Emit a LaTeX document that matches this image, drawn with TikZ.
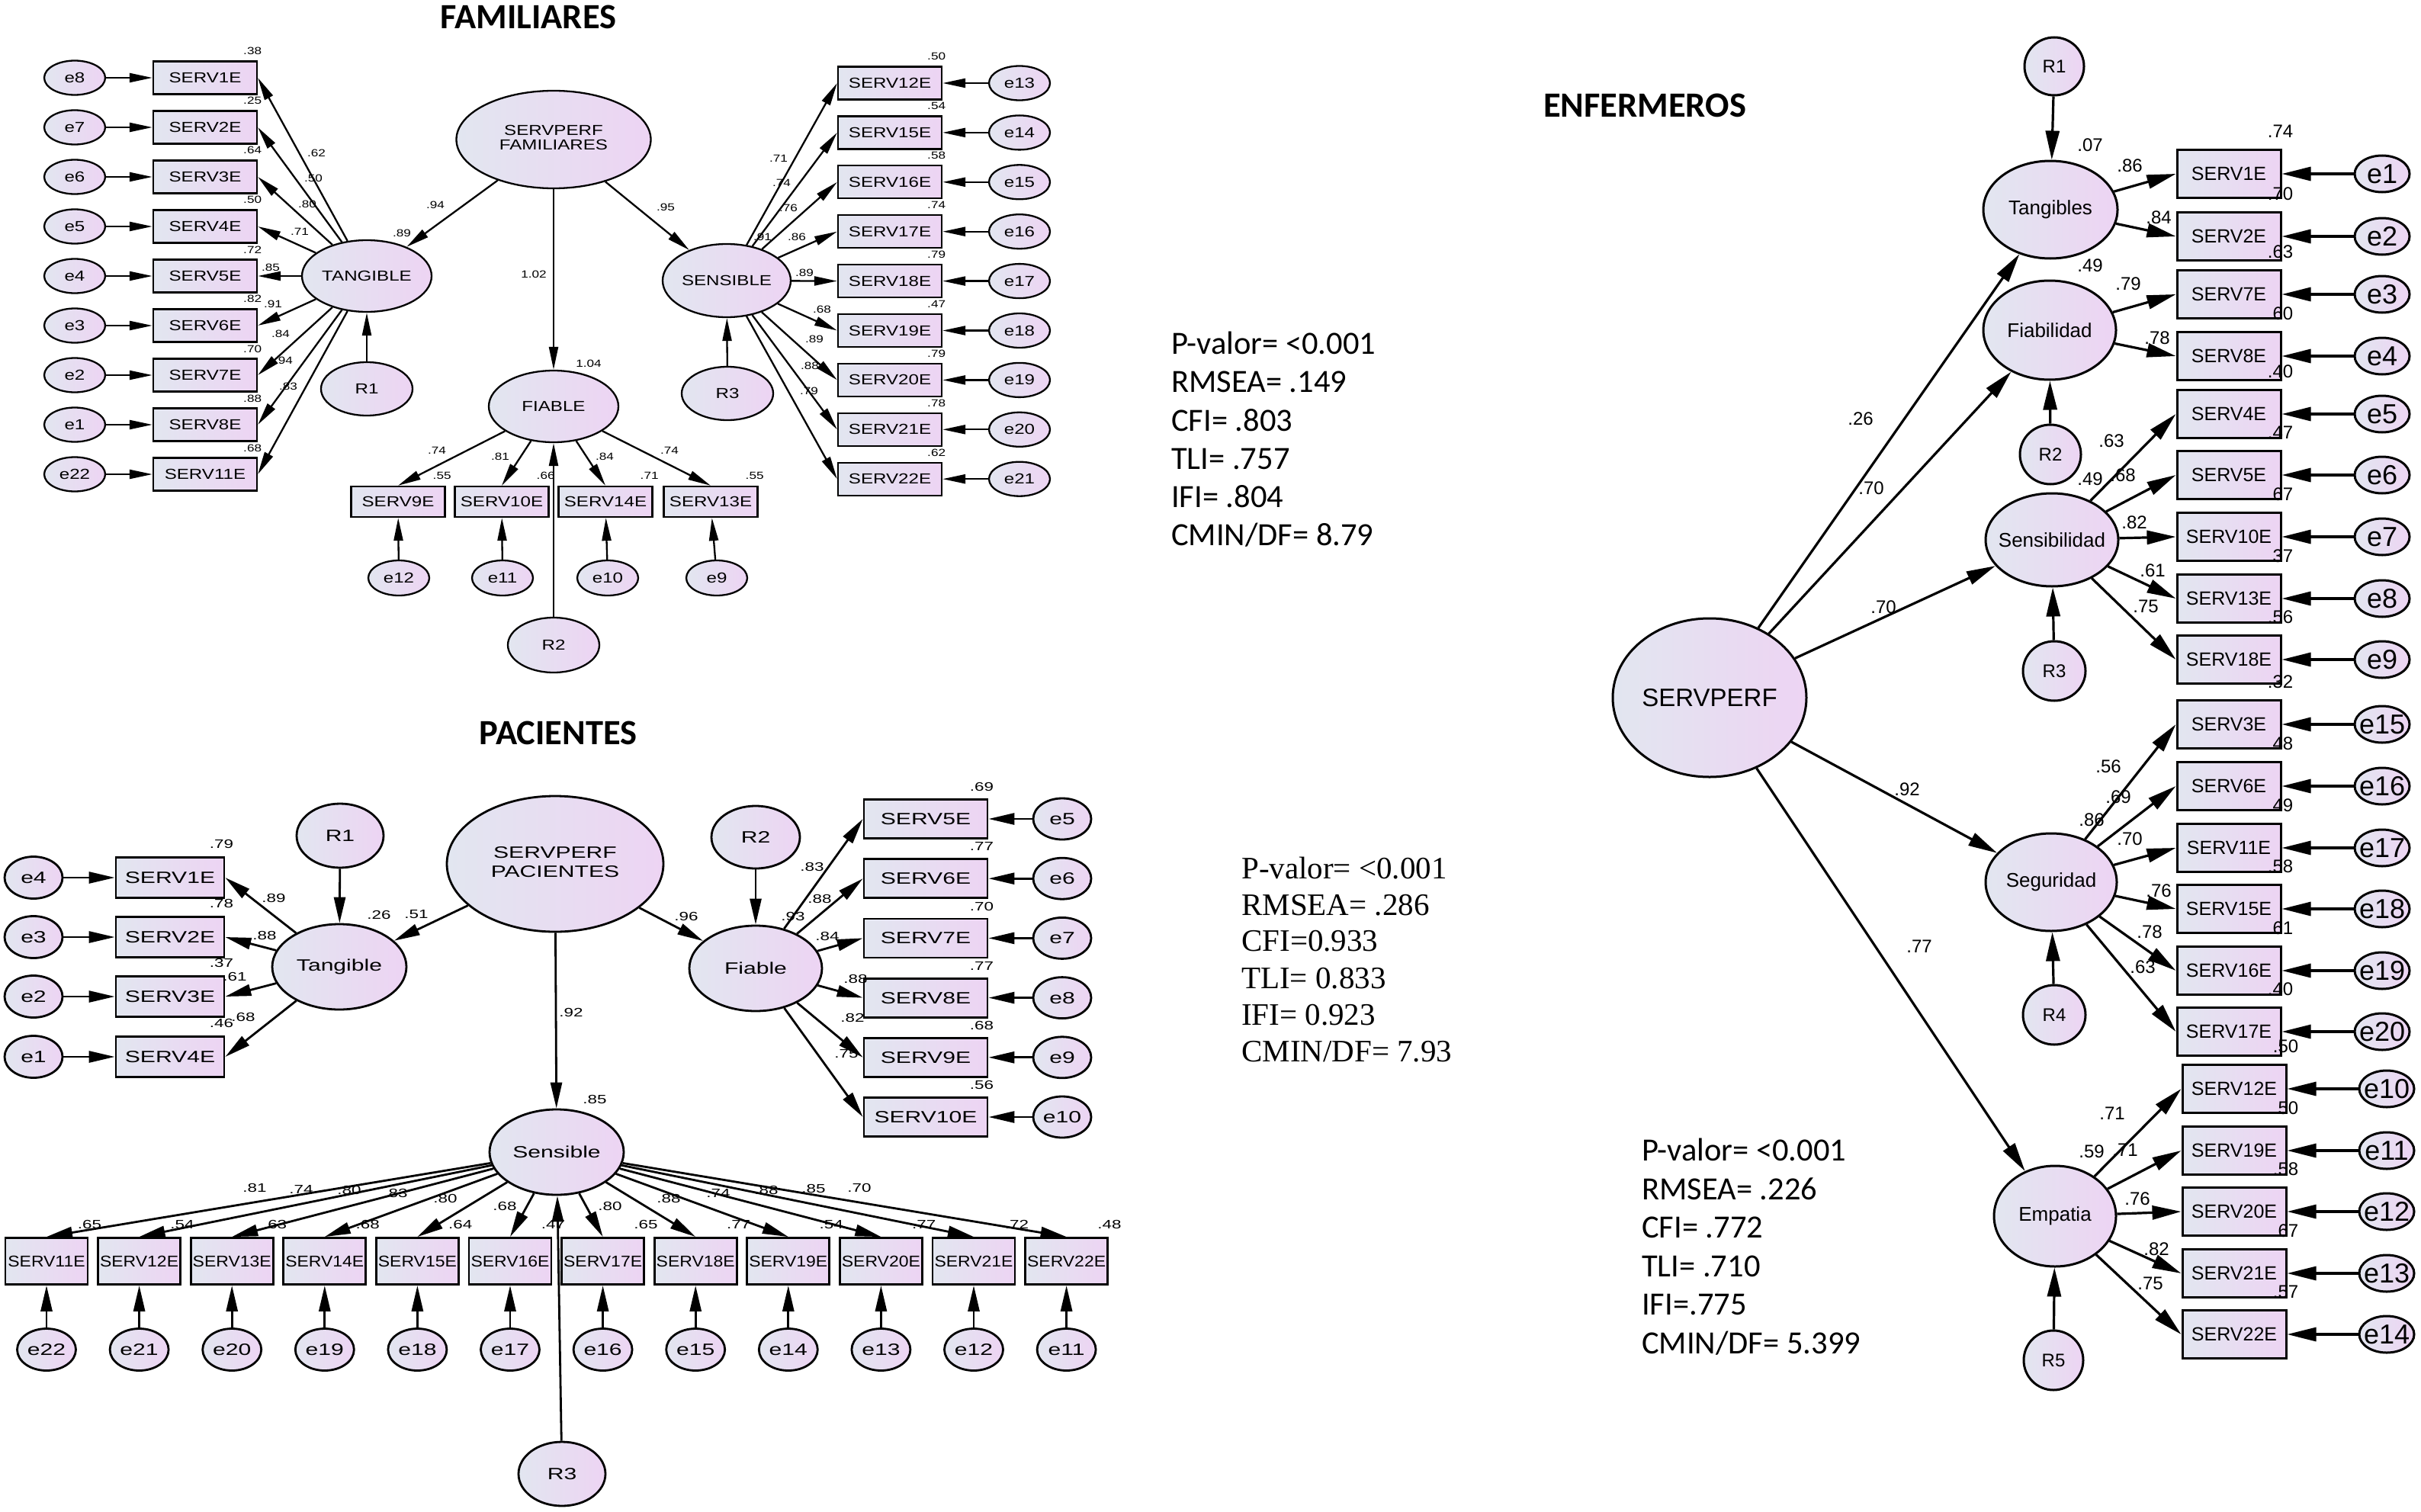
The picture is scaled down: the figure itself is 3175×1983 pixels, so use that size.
\documentclass[tikz,border=0pt]{standalone}
\usepackage{fontspec}
\setmainfont{Liberation Sans}
\newfontfamily\famf[FakeStretch=1.27]{Liberation Sans}
\newfontfamily\pacf[FakeStretch=1.4]{Liberation Sans}
\newfontfamily\pacbf[FakeStretch=1.12]{Liberation Sans}
\newfontfamily\enff{Liberation Sans}
\newfontfamily\calf{Carlito}
\newfontfamily\serf{Liberation Serif}
\usetikzlibrary{shapes.geometric,arrows.meta,calc}
\definecolor{gA}{RGB}{226,230,240}
\definecolor{gB}{RGB}{237,212,243}
\newcommand\zb[1]{\makebox[0pt]{#1}}
\tikzset{
  grad/.style={left color=gA, right color=gB},
  ttl/.style={inner sep=0pt, font=\calf\bfseries\fontsize{46.5}{46}\selectfont},
  % familiares
  flat/.style={ellipse, draw, line width=2.3pt, grad, inner sep=0pt, font=\famf\fontsize{19}{17}\selectfont},
  fobs/.style={rectangle, draw, line width=2.3pt, grad, inner sep=0pt, minimum width=136pt, minimum height=43pt, font=\famf\fontsize{19}{20}\selectfont},
  fobsb/.style={fobs, minimum width=123pt, minimum height=40pt},
  ferr/.style={flat, minimum width=80pt, minimum height=45pt},
  fnum/.style={inner sep=0pt, font=\famf\fontsize{13.5}{14}\selectfont},
  farr/.style={line width=2.3pt, -{Triangle[length=30pt,width=12pt]}},
  fstat/.style={inner sep=0pt, anchor=base west, font=\calf\fontsize{42.5}{44}\selectfont},
  % pacientes
  plat/.style={ellipse, draw, line width=2.8pt, grad, inner sep=0pt, font=\pacf\fontsize{21.5}{25}\selectfont},
  pobs/.style={rectangle, draw, line width=2.8pt, grad, inner sep=0pt, minimum width=142pt, minimum height=53pt, font=\pacf\fontsize{21.5}{22}\selectfont},
  pobsr/.style={pobs, minimum width=162pt, minimum height=51pt},
  pobsb/.style={pobs, minimum width=108pt, minimum height=61pt, font=\pacbf\fontsize{20.5}{21}\selectfont},
  perr/.style={plat, minimum width=76pt, minimum height=55pt},
  pnum/.style={inner sep=0pt, font=\pacf\fontsize{16}{16}\selectfont},
  parr/.style={line width=2.8pt, -{Triangle[length=34pt,width=15pt]}},
  pstat/.style={inner sep=0pt, anchor=base west, font=\serf\fontsize{41}{41}\selectfont},
  % enfermeros
  elat/.style={ellipse, draw, line width=3pt, grad, inner sep=0pt, font=\enff\fontsize{26}{26}\selectfont},
  eres/.style={elat, minimum width=80pt, minimum height=78pt, font=\enff\fontsize{24}{24}\selectfont},
  eobs/.style={rectangle, draw, line width=3pt, grad, inner sep=0pt, minimum width=136pt, minimum height=63pt, font=\enff\fontsize{25}{25}\selectfont},
  eerr/.style={elat, minimum width=72pt, minimum height=48pt, font=\enff\fontsize{36}{36}\selectfont},
  enum/.style={inner sep=0pt, font=\enff\fontsize{24}{24}\selectfont},
  earr/.style={line width=3.2pt, -{Triangle[length=38pt,width=18pt]}},
  estat/.style={inner sep=0pt, anchor=base west, font=\calf\fontsize{42.5}{44}\selectfont},
}
\begin{document}
\begin{tikzpicture}[x=1pt,y=-1pt]
\useasboundingbox (0,0) rectangle (3175,1983);
\fill[white] (0,0) rectangle (3175,1983);

%================ FAMILIARES ================
\node[ttl] (tfam) at (693,22) {FAMILIARES};
\node[flat, minimum width=255pt, minimum height=128pt] (fS) at (726,183) {\zb{\begin{tabular}{@{}c@{}}SERVPERF\\FAMILIARES\end{tabular}}};
\node[flat, minimum width=170pt, minimum height=94pt] (fT) at (481,362) {\zb{TANGIBLE}};
\node[flat, minimum width=120pt, minimum height=70pt] (fR1) at (481,510) {\zb{R1}};
\node[flat, minimum width=170pt, minimum height=94pt] (fF) at (726,533) {\zb{FIABLE}};
\node[flat, minimum width=120pt, minimum height=72pt] (fR2) at (726,846) {\zb{R2}};
\node[flat, minimum width=168pt, minimum height=96pt] (fSe) at (953,368) {\zb{SENSIBLE}};
\node[flat, minimum width=120pt, minimum height=70pt] (fR3) at (954,516) {\zb{R3}};
\draw[farr] (fS) -- (fT);
\draw[farr] (fS) -- (fF);
\draw[farr] (fS) -- (fSe);
\draw[farr] (fR1) -- (fT);
\draw[farr] (fR2) -- (fF);
\draw[farr] (fR3) -- (fSe);
\node[fnum] (fl94) at (571,269) {.94};
\node[fnum] (fl89) at (527,306) {.89};
\node[fnum] (fl102) at (700,360) {1.02};
\node[fnum] (fl104) at (772,477) {1.04};
\node[fnum] (fl95) at (873,272) {.95};
\node[fnum] (fl91) at (1000,311) {.91};

\foreach \ee/\bb/\rr/\lv/\lx/\ly [count=\k from 0] in {e8/SERV1E/.38/.62/415/201, e7/SERV2E/.25/.50/411/234, e6/SERV3E/.64/.80/403/268, e5/SERV4E/.50/.71/393/304, e4/SERV5E/.72/.85/355/351, e3/SERV6E/.82/.91/358/399, e2/SERV7E/.70/.84/368/438, e1/SERV8E/.88/.94/372/473, e22/SERV11E/.68/.83/378/507}{
  \pgfmathsetmacro\yy{102+65*\k}
  \node[fobs] (fb\k) at (269,\yy) {\bb};
  \node[ferr] (fe\k) at (98,\yy) {\zb{\ee}};
  \draw[farr] (fe\k) -- (fb\k);
  \draw[farr] (fT) -- (fb\k.east);
  \node[fnum] (fr\k) at ($(fb\k.north east)+(-7,-12)$) {\rr};
  \node[fnum] (fl\k) at (\lx,\ly) {\lv};
}
\foreach \bb/\ee/\rr/\lv/\lx/\ly [count=\k from 0] in {SERV12E/e13/.50/.71/1021/208, SERV15E/e14/.54/.74/1025/240, SERV16E/e15/.58/.76/1034/273, SERV17E/e16/.74/.86/1045/311, SERV18E/e17/.79/.89/1055/358, SERV19E/e18/.47/.68/1078/406, SERV20E/e19/.79/.89/1068/445, SERV21E/e20/.78/.88/1062/480, SERV22E/e21/.62/.79/1061/513}{
  \pgfmathsetmacro\yy{109+64.9*\k}
  \node[fobs] (fg\k) at (1167,\yy) {\bb};
  \node[ferr] (fh\k) at (1337,\yy) {\zb{\ee}};
  \draw[farr] (fh\k) -- (fg\k);
  \draw[farr] (fSe) -- (fg\k.west);
  \node[fnum] (fgr\k) at ($(fg\k.north east)+(-8,-12)$) {\rr};
  \node[fnum] (fgl\k) at (\lx,\ly) {\lv};
}
\foreach \bb/\bx/\ee/\ex/\rr/\lv/\lx/\ly [count=\k from 0] in {SERV9E/522/e12/523/.55/.74/573/591, SERV10E/658/e11/659/.66/.81/656/599, SERV14E/794/e10/797/.71/.84/793/599, SERV13E/932/e9/940/.55/.74/878/591}{
  \node[fobsb] (fc\k) at (\bx,658) {\bb};
  \node[ferr, minimum height=46pt] (fd\k) at (\ex,758) {\zb{\ee}};
  \draw[farr] (fd\k) -- (fc\k);
  \draw[farr] (fF) -- (fc\k.north);
  \node[fnum] (fcr\k) at ($(fc\k.north east)+(-5,-13)$) {\rr};
  \node[fnum] (fcl\k) at (\lx,\ly) {\lv};
}
\node[fstat] (fs1) at (1536,464) {P-valor= <0.001};
\node[fstat] (fs2) at (1536,514) {RMSEA= .149};
\node[fstat] (fs3) at (1536,565) {CFI= .803};
\node[fstat] (fs4) at (1536,615) {TLI= .757};
\node[fstat] (fs5) at (1536,665) {IFI= .804};
\node[fstat] (fs6) at (1536,715) {CMIN/DF= 8.79};

%================ PACIENTES ================
\node[ttl] (tpac) at (732,961) {PACIENTES};
\node[plat, minimum width=284pt, minimum height=178pt] (pS) at (728,1133) {\zb{\begin{tabular}{@{}c@{}}SERVPERF\\PACIENTES\end{tabular}}};
\node[plat, minimum width=176pt, minimum height=112pt] (pT) at (445,1268) {\zb{Tangible}};
\node[plat, minimum width=114pt, minimum height=84pt] (pR1) at (446,1096) {\zb{R1}};
\node[plat, minimum width=174pt, minimum height=112pt] (pF) at (991,1270) {\zb{Fiable}};
\node[plat, minimum width=116pt, minimum height=82pt] (pR2) at (991,1098) {\zb{R2}};
\node[plat, minimum width=176pt, minimum height=112pt] (pSe) at (730,1511) {\zb{Sensible}};
\node[plat, minimum width=114pt, minimum height=84pt] (pR3) at (737,1933) {\zb{R3}};
\draw[parr] (pS) -- (pT);
\draw[parr] (pS) -- (pF);
\draw[parr] (pS) -- (pSe);
\draw[parr] (pR1) -- (pT);
\draw[parr] (pR2) -- (pF);
\draw[parr] (pR3) -- (pSe);
\node[pnum] (pl26) at (497,1200) {.26};
\node[pnum] (pl51) at (546,1199) {.51};
\node[pnum] (pl92) at (749,1328) {.92};
\node[pnum] (pl96) at (900,1202) {.96};
\node[pnum] (pl93) at (1040,1202) {.93};
\node[pnum] (pl85) at (780,1442) {.85};

\foreach \ee/\bb/\rr/\lv/\lx/\ly/\yy [count=\k from 0] in {e4/SERV1E/.79/.89/359/1178/1151, e3/SERV2E/.78/.88/347/1227/1229, e2/SERV3E/.37/.61/308/1281/1307, e1/SERV4E/.46/.68/319/1334/1386}{
  \node[pobs] (pb\k) at (223,\yy) {\bb};
  \node[perr] (pe\k) at (44,\yy) {\zb{\ee}};
  \draw[parr] (pe\k) -- (pb\k);
  \draw[parr] (pT) -- (pb\k.east);
  \node[pnum] (pr\k) at ($(pb\k.north east)+(-5,-16)$) {\rr};
  \node[pnum] (pl\k) at (\lx,\ly) {\lv};
}
\foreach \bb/\ee/\rr/\lv/\lx/\ly [count=\k from 0] in {SERV5E/e5/.69/.83/1065/1137, SERV6E/e6/.77/.88/1075/1179, SERV7E/e7/.70/.84/1085/1228, SERV8E/e8/.77/.88/1122/1284, SERV9E/e9/.68/.82/1118/1335, SERV10E/e10/.56/.75/1110/1382}{
  \pgfmathsetmacro\yy{1074+78.2*\k}
  \node[pobsr] (pg\k) at (1214,\yy) {\bb};
  \node[perr, minimum height=54pt] (ph\k) at (1393,\yy) {\zb{\ee}};
  \draw[parr] (ph\k) -- (pg\k);
  \draw[parr] (pF) -- (pg\k.west);
  \node[pnum] (pgr\k) at ($(pg\k.north east)+(-9,-15)$) {\rr};
  \node[pnum] (pgl\k) at (\lx,\ly) {\lv};
}
\foreach \bb/\ee/\rr/\lv/\lx/\ly [count=\k from 0] in {SERV11E/e22/.65/.81/334/1558, SERV12E/e21/.54/.74/395/1560, SERV13E/e20/.63/.80/458/1561, SERV14E/e19/.68/.83/519/1565, SERV15E/e18/.64/.80/584/1572, SERV16E/e17/.47/.68/662/1582, SERV17E/e16/.65/.80/800/1582, SERV18E/e15/.77/.88/877/1572, SERV19E/e14/.54/.74/942/1565, SERV20E/e13/.77/.88/1005/1561, SERV21E/e12/.72/.85/1067/1559, SERV22E/e11/.48/.70/1127/1558}{
  \pgfmathsetmacro\xx{61+121.6*\k}
  \node[pobsb] (pc\k) at (\xx,1654) {\bb};
  \node[perr, minimum width=77pt] (pd\k) at (\xx,1770) {\zb{\ee}};
  \draw[parr] (pd\k) -- (pc\k);
  \draw[parr] (pSe) -- (pc\k.north);
  \node[pnum] (pcr\k) at ($(pc\k.north east)+(1,-16)$) {\rr};
  \node[pnum] (pcl\k) at (\lx,\ly) {\lv};
}
\node[pstat] (ps1) at (1628,1152) {P-valor= <0.001};
\node[pstat] (ps2) at (1628,1200) {RMSEA= .286};
\node[pstat] (ps3) at (1628,1247) {CFI=0.933};
\node[pstat] (ps4) at (1628,1296) {TLI= 0.833};
\node[pstat] (ps5) at (1628,1344) {IFI= 0.923};
\node[pstat] (ps6) at (1628,1392) {CMIN/DF= 7.93};

%================ ENFERMEROS ================
\node[ttl] (tenf) at (2157,138) {ENFERMEROS};
\node[elat, minimum width=254pt, minimum height=208pt, font=\enff\fontsize{33}{33}\selectfont] (eS) at (2242,915) {\zb{SERVPERF}};
\node[elat, minimum width=176pt, minimum height=128pt] (eT) at (2689,275) {\zb{Tangibles}};
\node[eres, minimum width=78pt, minimum height=76pt] (eR1) at (2694,87) {\zb{R1}};
\node[elat, minimum width=174pt, minimum height=130pt] (eF) at (2688,433) {\zb{Fiabilidad}};
\node[eres] (eR2) at (2689,596) {\zb{R2}};
\node[elat, minimum width=174pt, minimum height=122pt] (eSe) at (2691,708) {\zb{Sensibilidad}};
\node[eres, minimum width=82pt] (eR3) at (2694,880) {\zb{R3}};
\node[elat, minimum width=172pt, minimum height=128pt] (eSg) at (2690,1157) {\zb{Seguridad}};
\node[eres, minimum width=82pt] (eR4) at (2694,1331) {\zb{R4}};
\node[elat, minimum width=160pt, minimum height=132pt] (eE) at (2695,1595) {\zb{Empatia}};
\node[eres, minimum width=78pt] (eR5) at (2693,1784) {\zb{R5}};
\draw[earr] (eS) -- (eT);
\draw[earr] (eS) -- (eF);
\draw[earr] (eS) -- (eSe);
\draw[earr] (eS) -- (eSg);
\draw[earr] (eS) -- (eE);
\draw[earr] (eR1) -- (eT);
\draw[earr] (eR2) -- (eF);
\draw[earr] (eR3) -- (eSe);
\draw[earr] (eR4) -- (eSg);
\draw[earr] (eR5) -- (eE);
\node[enum] (el26) at (2440,549) {.26};
\node[enum] (el70a) at (2454,640) {.70};
\node[enum] (el70b) at (2470,796) {.70};
\node[enum] (el92) at (2501,1035) {.92};
\node[enum] (el77) at (2517,1241) {.77};
\node[enum] (el07) at (2741,190) {.07};
\node[enum] (el49a) at (2741,348) {.49};
\node[enum] (el49b) at (2741,628) {.49};
\node[enum] (el86) at (2743,1075) {.86};
\node[enum] (el59) at (2743,1510) {.59};

\foreach \bb/\yy/\bx/\ee/\ex/\rr/\ff/\lv/\lx/\ly [count=\k from 0] in {
 SERV1E/228/2923/e1/3124/.74/eT/.86/2793/217,
 SERV2E/310/2923/e2/3124/.70/eT/.84/2831/285,
 SERV7E/386/2923/e3/3124/.63/eF/.79/2791/372,
 SERV8E/467/2923/e4/3124/.60/eF/.78/2829/443,
 SERV4E/543/2923/e5/3124/.40/eSe/.63/2769/578,
 SERV5E/623/2923/e6/3124/.47/eSe/.68/2784/623,
 SERV10E/704/2923/e7/3124/.67/eSe/.82/2799/685,
 SERV13E/785/2923/e8/3124/.37/eSe/.61/2823/748,
 SERV18E/865/2923/e9/3124/.56/eSe/.75/2814/795,
 SERV3E/950/2923/e15/3124/.32/eSg/.56/2765/1005,
 SERV6E/1031/2923/e16/3124/.48/eSg/.69/2778/1045,
 SERV11E/1112/2923/e17/3124/.49/eSg/.70/2793/1100,
 SERV15E/1192/2923/e18/3124/.58/eSg/.76/2831/1168,
 SERV16E/1273/2923/e19/3124/.61/eSg/.78/2819/1222,
 SERV17E/1353/2923/e20/3124/.40/eSg/.63/2810/1268,
 SERV12E/1428/2930/e10/3130/.50/eE/.71/2770/1460,
 SERV19E/1509/2930/e11/3130/.50/eE/.71/2787/1508,
 SERV20E/1589/2930/e12/3130/.58/eE/.76/2803/1572,
 SERV21E/1670/2930/e13/3130/.67/eE/.82/2828/1638,
 SERV22E/1750/2930/e14/3130/.57/eE/.75/2820/1683}{
  \node[eobs] (eb\k) at (\bx,\yy) {\bb};
  \node[eerr] (ee\k) at (\ex,\yy) {\zb{\ee}};
  \draw[earr] (ee\k) -- (eb\k);
  \draw[earr] (\ff) -- (eb\k.west);
  \node[enum] (er\k) at ($(eb\k.north east)+(-2,-23)$) {\rr};
  \node[enum] (ell\k) at (\lx,\ly) {\lv};
}
\node[estat] (es1) at (2153,1522) {P-valor= <0.001};
\node[estat] (es2) at (2153,1573) {RMSEA= .226};
\node[estat] (es3) at (2153,1623) {CFI= .772};
\node[estat] (es4) at (2153,1674) {TLI= .710};
\node[estat] (es5) at (2153,1724) {IFI=.775};
\node[estat] (es6) at (2153,1775) {CMIN/DF= 5.399};
\end{tikzpicture}
\end{document}
